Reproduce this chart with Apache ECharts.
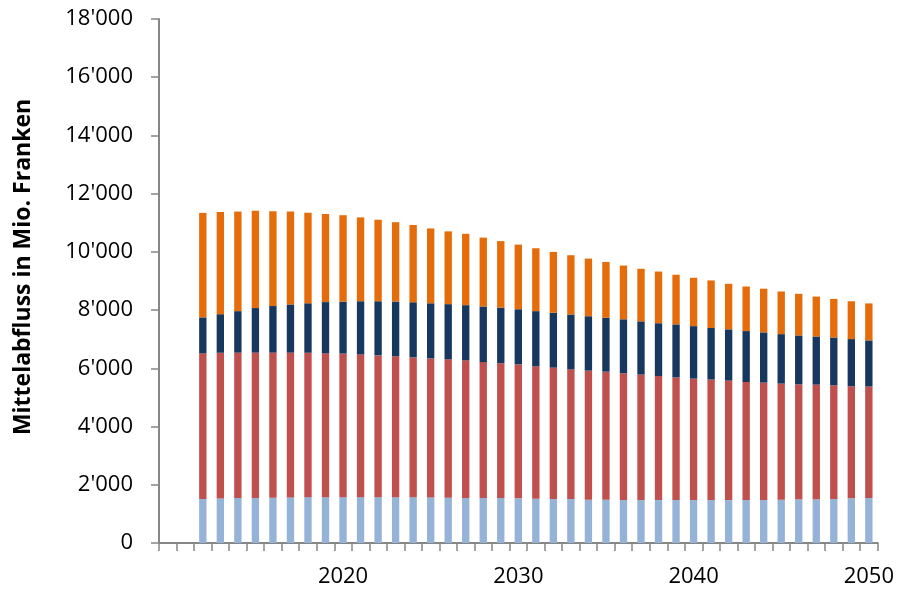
<!DOCTYPE html>
<html>
<head>
<meta charset="utf-8">
<script src="https://cdn.jsdelivr.net/npm/echarts@6/dist/echarts.min.js"></script>
<style>
	html, body { margin: 0; padding: 0; background: #fff; }
	#chart { width: 897px; height: 593px; }
</style>
</head>
<body>
<div id="chart"></div>
<script>
	var years = ['2010','2011','2012','2013','2014','2015','2016','2017','2018','2019',
		'2020','2021','2022','2023','2024','2025','2026','2027','2028','2029',
		'2030','2031','2032','2033','2034','2035','2036','2037','2038','2039',
		'2040','2041','2042','2043','2044','2045','2046','2047','2048','2049','2050'];

	// bottom segment (light blue)
	var lightBlue = [null, null, 1510, 1530, 1545, 1545, 1555, 1565, 1575, 1575,
		1575, 1575, 1575, 1575, 1575, 1565, 1555, 1545, 1545, 1545,
		1535, 1520, 1510, 1510, 1485, 1485, 1480, 1475, 1475, 1475,
		1475, 1475, 1475, 1475, 1475, 1485, 1500, 1500, 1510, 1535, 1545];
	// red
	var red = [null, null, 5005, 5005, 4995, 4995, 4985, 4975, 4960, 4940,
		4930, 4905, 4870, 4840, 4800, 4775, 4755, 4730, 4670, 4630,
		4600, 4550, 4515, 4455, 4435, 4400, 4350, 4310, 4260, 4215,
		4170, 4140, 4105, 4055, 4035, 3990, 3950, 3940, 3905, 3850, 3830];
	// dark blue
	var darkBlue = [null, null, 1235, 1325, 1425, 1530, 1600, 1655, 1700, 1760,
		1785, 1825, 1860, 1880, 1895, 1895, 1895, 1895, 1910, 1910,
		1895, 1895, 1885, 1885, 1870, 1850, 1855, 1830, 1815, 1820,
		1805, 1770, 1760, 1750, 1725, 1700, 1680, 1655, 1645, 1620, 1585];
	// top segment (orange)
	var orange = [null, null, 3590, 3510, 3420, 3340, 3255, 3190, 3110, 3030,
		2970, 2880, 2800, 2725, 2655, 2570, 2500, 2450, 2365, 2285,
		2220, 2160, 2090, 2035, 1980, 1920, 1845, 1805, 1775, 1705,
		1660, 1635, 1565, 1530, 1500, 1465, 1430, 1370, 1325, 1300, 1270];

	var yTicks = [0, 2000, 4000, 6000, 8000, 10000, 12000, 14000, 16000, 18000];

	var font = "'Open Sans', sans-serif";
	var axisColor = '#868686';

	function fmt(v){
		var s = String(v);
		if(v >= 1000){
			s = s.slice(0, s.length - 3) + "'" + s.slice(s.length - 3);
		}
		return s;
	}

	function bar(name, data, color){
		return {
			name: name,
			type: 'bar',
			stack: 'total',
			data: data,
			barWidth: '42%',
			itemStyle: { color: color },
			emphasis: { disabled: true }
		};
	}

	var myChart = echarts.init(document.getElementById('chart'), null, { renderer: 'canvas' });
	myChart.setOption({
		animation: false,
		grid: { left: 159, right: 19, top: 19, bottom: 50 },
		xAxis: {
			type: 'category',
			data: years,
			boundaryGap: true,
			axisLine: { lineStyle: { color: axisColor, width: 2 } },
			axisTick: { show: true, interval: 0, alignWithLabel: false, length: 8, lineStyle: { color: axisColor, width: 1.5 } },
			axisLabel: {
				interval: function(i, v){ return v !== '2010' && Number(v) % 10 === 0; },
				color: '#000', fontFamily: font, fontSize: 22, margin: 23
			}
		},
		yAxis: {
			type: 'value',
			min: yTicks[0],
			max: yTicks[yTicks.length - 1],
			interval: yTicks[1] - yTicks[0],
			name: 'Mittelabfluss in Mio. Franken',
			nameLocation: 'middle',
			nameGap: 124,
			nameTextStyle: { color: '#000', fontFamily: font, fontSize: 23, fontWeight: 'bold', padding: [0, 0, 0, 28] },
			splitLine: { show: false },
			axisLine: { show: true, lineStyle: { color: axisColor, width: 2 } },
			axisTick: { show: true, length: 8, lineStyle: { color: axisColor, width: 1.5 } },
			axisLabel: { color: '#000', fontFamily: font, fontSize: 22, margin: 26, formatter: fmt }
		},
		series: [
			bar('light', lightBlue, '#95b3d7'),
			bar('red', red, '#c0504d'),
			bar('dark', darkBlue, '#17375e'),
			bar('orange', orange, '#e46c0a')
		]
	});
</script>
</body>
</html>
